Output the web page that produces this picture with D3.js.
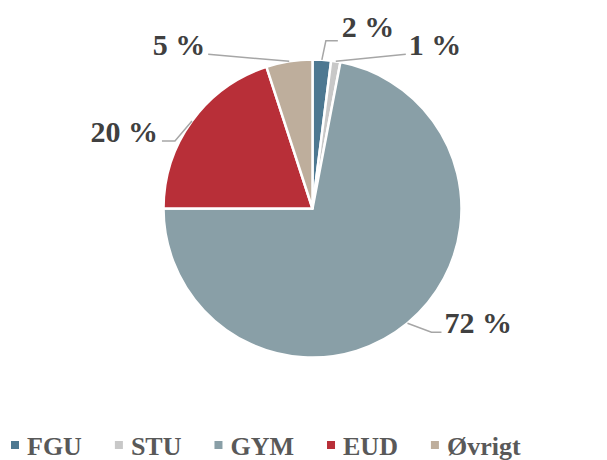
<!DOCTYPE html>
<html>
<head>
<meta charset="utf-8">
<script src="https://cdn.jsdelivr.net/npm/d3@7"></script>
<style>
  body { margin: 0; background: #fff; }
  text { font-family: "Liberation Serif", "DejaVu Serif", serif; font-weight: bold; }
</style>
</head>
<body>
<div id="chart"></div>
<script>
// data
const categories = ["FGU", "STU", "GYM", "EUD", "Øvrigt"];
const values = [2, 1, 72, 20, 5];
const labels = ["2 %", "1 %", "72 %", "20 %", "5 %"];
const colors = ["#4d7891", "#c8c8c8", "#899fa7", "#b82f38", "#beae9c"];

// leader line bends and label nudges, relative to the slice edge
const leader = [
    { pts: [[4, -19], [16, -19]], text: [20, -23], anchor: "start" },
    { pts: [[70, -7]], text: [73, -6], anchor: "start" },
    { pts: [[24, 9], [34, 9]], text: [37, 10], anchor: "start" },
    { pts: [[-17, 20], [-30, 20]], text: [-34, 21], anchor: "end" },
    { pts: [[-81, -7]], text: [-84, -6], anchor: "end" }
];

const width = 607, height = 460;
const cx = 312.5, cy = 208.5, radius = 149;

const svg = d3.select("#chart")
    .append("svg")
    .attr("width", width)
    .attr("height", height);

const pie = d3.pie().sort(null).value(d => d)(values);

const arc = d3.arc().innerRadius(0).outerRadius(radius);
const edge = d3.arc().innerRadius(radius).outerRadius(radius);

const g = svg.append("g")
    .attr("transform", `translate(${cx}, ${cy})`);

g.selectAll("path.slice")
    .data(pie)
    .enter()
    .append("path")
    .attr("class", "slice")
    .attr("d", arc)
    .attr("fill", (d, i) => colors[i])
    .attr("stroke", "#fff")
    .attr("stroke-width", 2.5)
    .attr("stroke-linejoin", "round");

// leader lines
g.selectAll("path.leader")
    .data(pie)
    .enter()
    .append("path")
    .attr("class", "leader")
    .attr("d", (d, i) => {
        const s = edge.centroid(d);
        const pts = [s].concat(leader[i].pts.map(p => [s[0] + p[0], s[1] + p[1]]));
        return d3.line()(pts);
    })
    .attr("fill", "none")
    .attr("stroke", "#a6a6a6")
    .attr("stroke-width", 1.5);

// data labels
g.selectAll("text.label")
    .data(pie)
    .enter()
    .append("text")
    .attr("class", "label")
    .attr("x", (d, i) => edge.centroid(d)[0] + leader[i].text[0])
    .attr("y", (d, i) => edge.centroid(d)[1] + leader[i].text[1])
    .attr("text-anchor", (d, i) => leader[i].anchor)
    .attr("fill", "#404040")
    .style("font-size", "30px")
    .text((d, i) => labels[i]);

// legend
const legend = svg.append("g").attr("transform", "translate(11, 455)");
let xPos = 0;
categories.forEach((c, i) => {
    const item = legend.append("g").attr("transform", `translate(${xPos}, 0)`);
    item.append("rect")
        .attr("x", 0)
        .attr("y", -14)
        .attr("width", 8)
        .attr("height", 8)
        .attr("fill", colors[i]);
    const t = item.append("text")
        .attr("x", 16)
        .attr("y", 0)
        .attr("fill", "#595959")
        .style("font-size", "26px")
        .text(c);
    xPos += 16 + t.node().getComputedTextLength() + 33;
});
</script>
</body>
</html>
